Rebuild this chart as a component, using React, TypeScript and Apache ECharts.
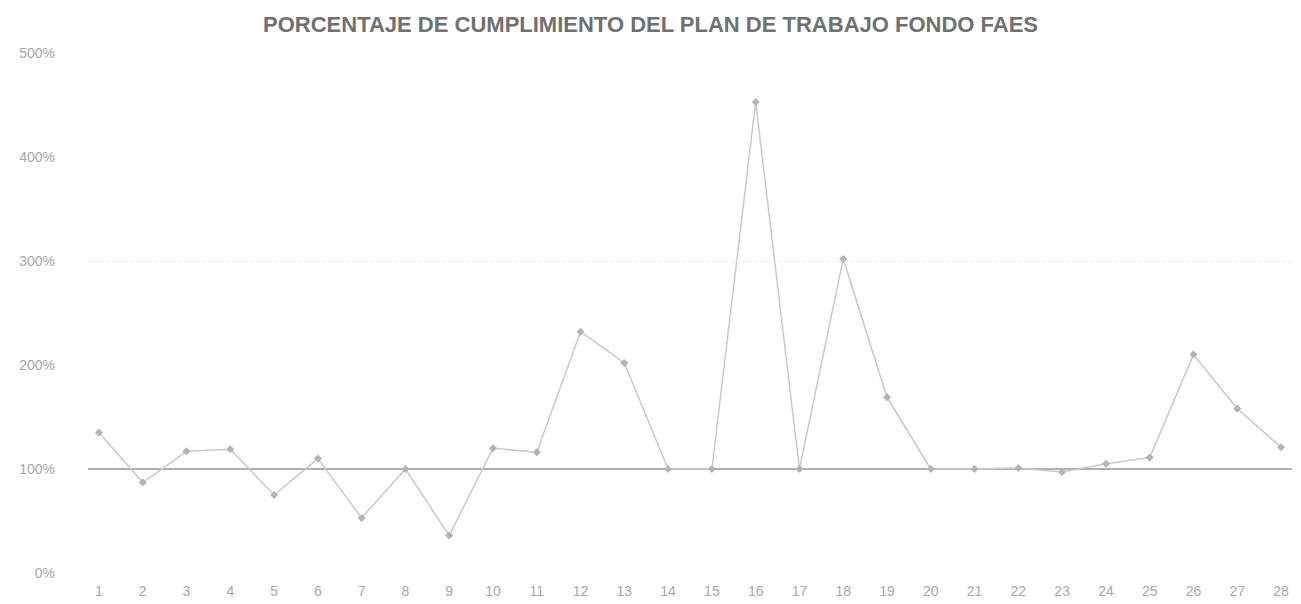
import React, { useEffect, useRef } from "react";
import * as echarts from "echarts";

const TITLE = "PORCENTAJE DE CUMPLIMIENTO DEL PLAN DE TRABAJO FONDO FAES";
const periods = [1, 2, 3, 4, 5, 6, 7, 8, 9, 10, 11, 12, 13, 14, 15, 16, 17, 18, 19, 20, 21, 22, 23, 24, 25, 26, 27, 28];
const periodLabels = ["1", "2", "3", "4", "5", "6", "7", "8", "9", "10", "11", "12", "13", "14", "15", "16", "17", "18", "19", "20", "21", "22", "23", "24", "25", "26", "27", "28"];
const cumplimiento = [135, 87, 117, 119, 75, 110, 53, 100, 36, 120, 116, 232, 202, 100, 100, 453, 100, 302, 169, 100, 100, 101, 97, 105, 111, 210, 158, 121];
const metaX = [0.75, 28.25];
const metaValue = [100, 100];
const yTicks = [0, 100, 200, 300, 400, 500];

export default function App() {
  const ref = useRef<HTMLDivElement>(null);
  useEffect(() => {
    if (!ref.current) return;
    const chart = echarts.init(ref.current, null, { renderer: "svg" });
    chart.setOption({
      animation: false,
      backgroundColor: "#ffffff",
      title: {
        text: TITLE,
        left: "center",
        top: 8,
        textStyle: {
          fontFamily: "Liberation Sans, Arial, sans-serif",
          fontSize: 22,
          fontWeight: "bold",
          color: "#707070",
        },
      },
      grid: { left: 88, right: 9, top: 53, bottom: 31, containLabel: false },
      xAxis: {
        type: "value",
        min: metaX[0],
        max: metaX[1],
        axisLine: { show: false },
        axisTick: { show: false },
        splitLine: { show: false },
        axisLabel: {
          customValues: periods,
          formatter: (v: number) => periodLabels[periods.indexOf(Math.round(v))] ?? "",
          color: "#a8a8a8",
          fontSize: 14,
          fontFamily: "Liberation Sans, Arial, sans-serif",
          margin: 11,
        },
      },
      yAxis: {
        type: "value",
        min: 0,
        max: 500,
        interval: 100,
        axisLine: { show: false },
        axisTick: { show: false },
        splitLine: { show: false },
        axisLabel: {
          customValues: yTicks,
          formatter: (v: number) => v + "%",
          color: "#a8a8a8",
          fontSize: 14,
          fontFamily: "Liberation Sans, Arial, sans-serif",
          margin: 33,
        },
      },
      series: [
        {
          name: "Meta",
          type: "line",
          data: metaX.map((x, i) => [x, metaValue[i]]),
          symbol: "none",
          lineStyle: { color: "#a9b1b8", width: 2 },
          z: 1,
          markLine: {
            silent: true,
            symbol: "none",
            label: { show: false },
            lineStyle: { color: "#ececec", type: "dashed", width: 1 },
            data: [{ yAxis: 300 }],
          },
        },
        {
          name: "Cumplimiento",
          type: "line",
          data: periods.map((p, i) => [p, cumplimiento[i]]),
          symbol: "diamond",
          symbolSize: 8,
          lineStyle: { color: "#c9c9c9", width: 1.5 },
          itemStyle: { color: "#b3b3b3" },
          z: 2,
        },
      ],
    });
    return () => chart.dispose();
  }, []);
  return <div ref={ref} style={{ position: "fixed", left: 0, top: 0, width: 1301, height: 604 }} />;
}
